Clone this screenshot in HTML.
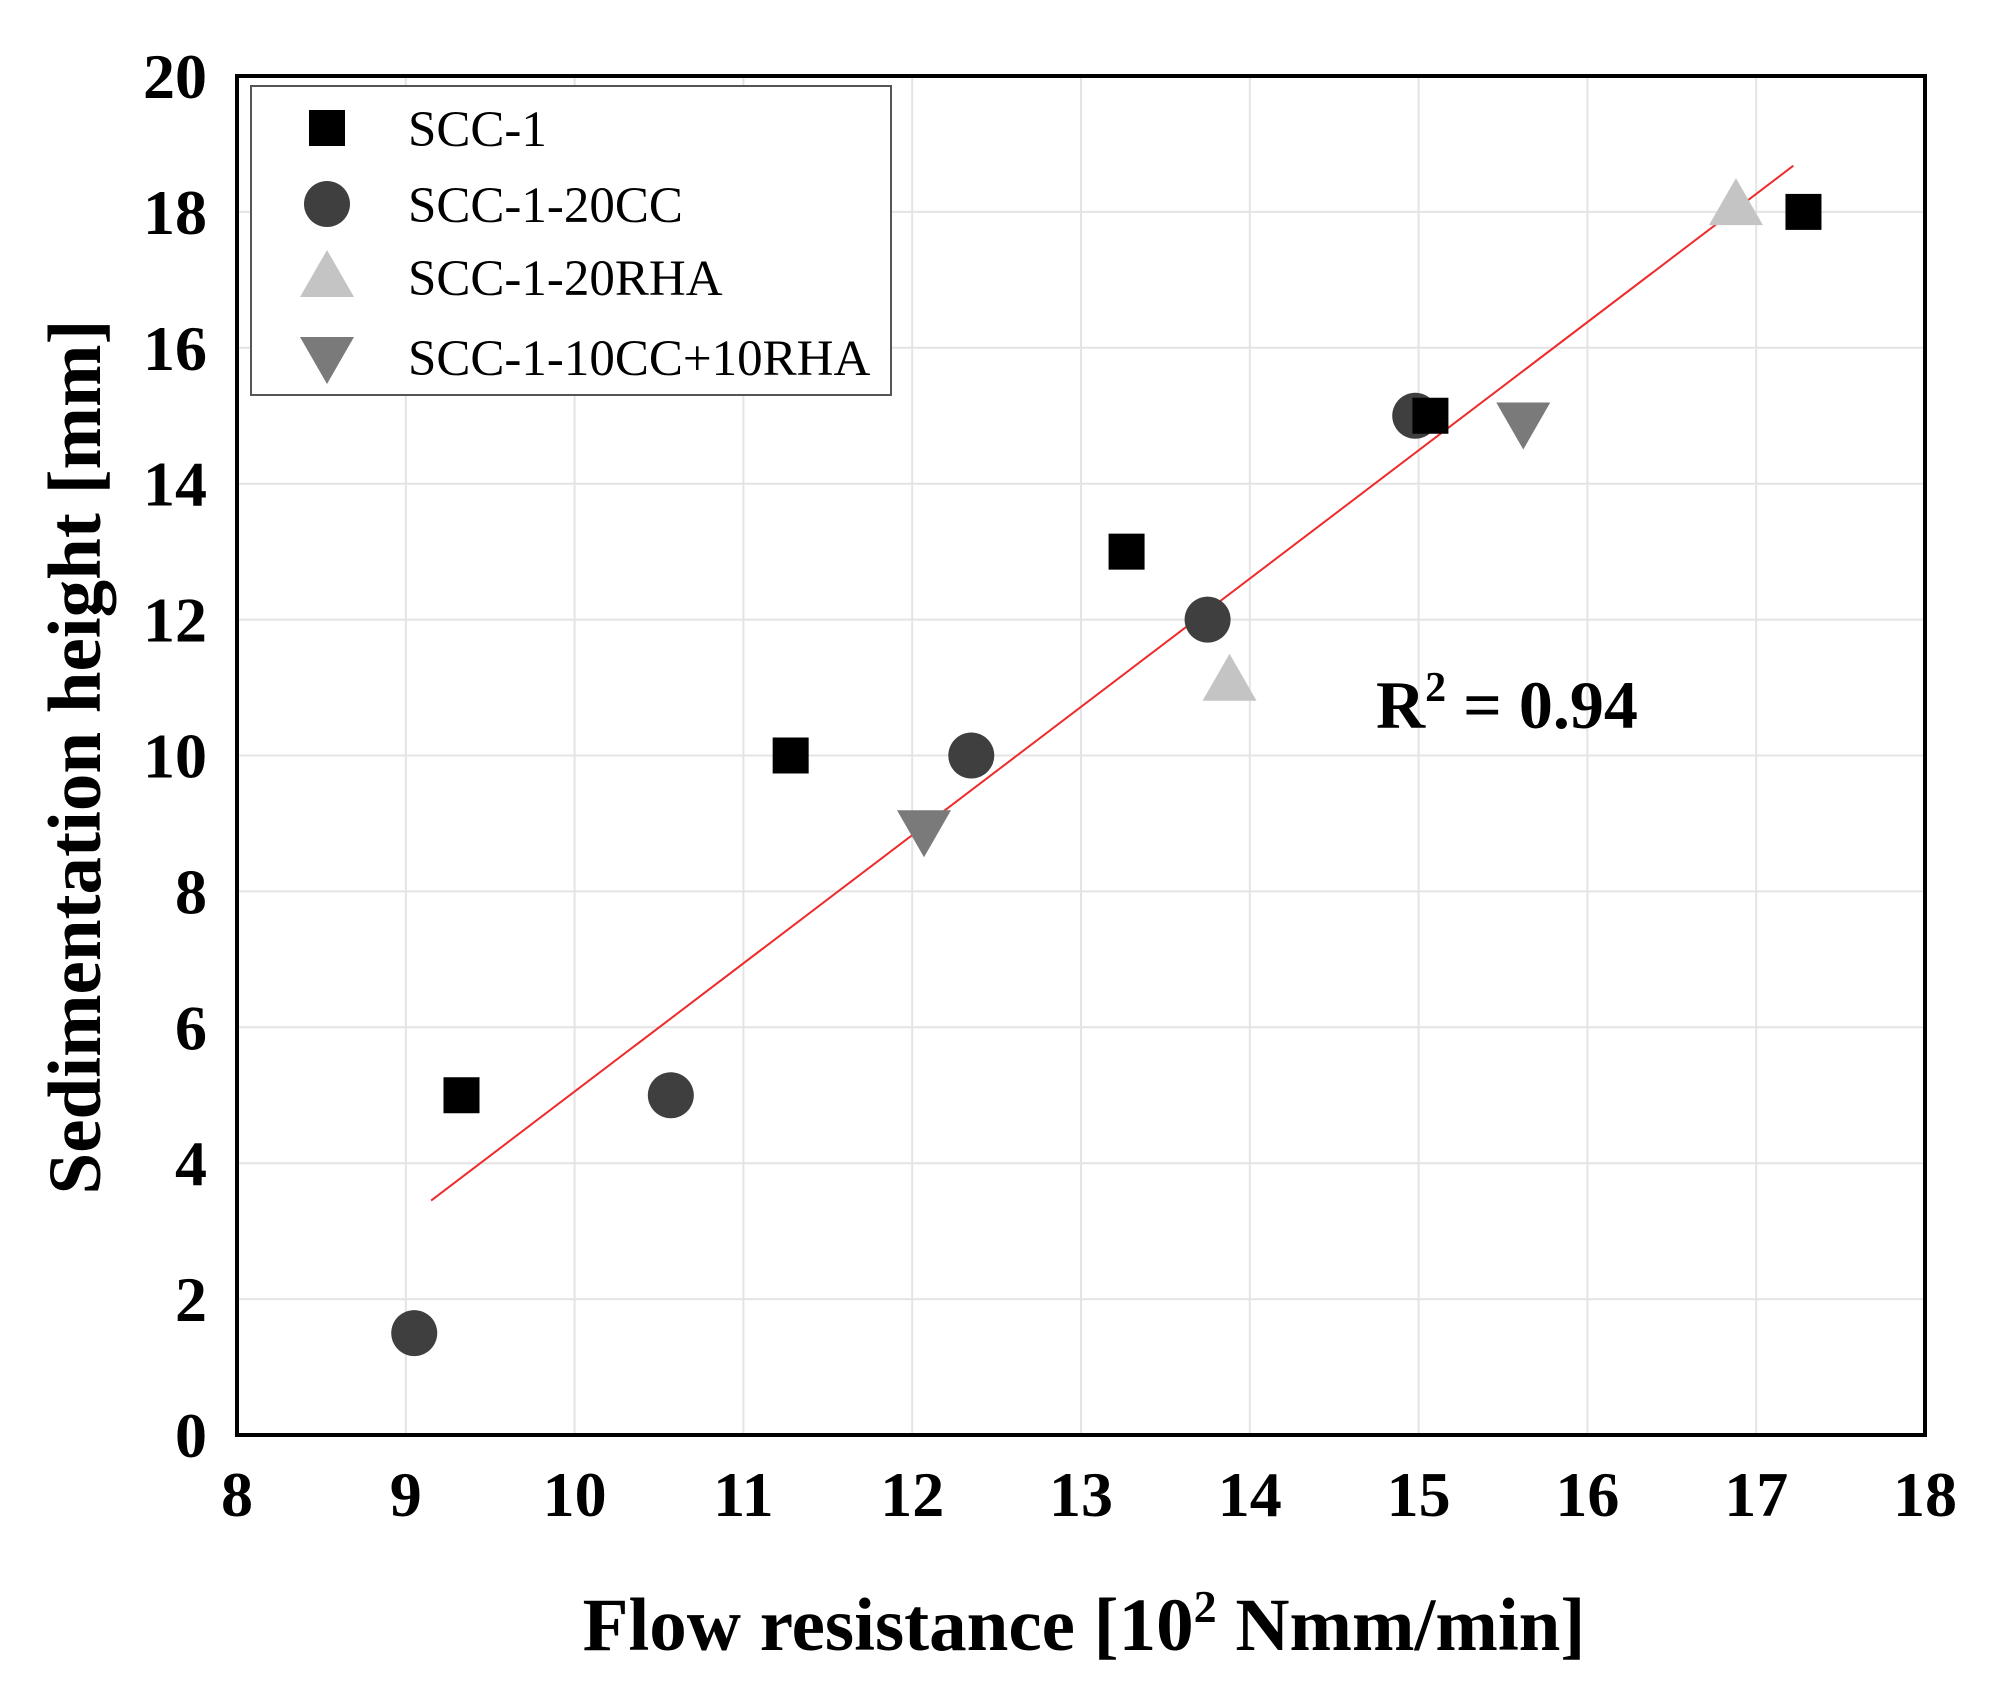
<!DOCTYPE html>
<html><head><meta charset="utf-8"><style>
html,body{margin:0;padding:0;background:#fff;}
svg text{font-family:"Liberation Serif",serif;}
</style></head><body>
<svg width="2003" height="1694" viewBox="0 0 2003 1694" xmlns="http://www.w3.org/2000/svg">
<g id="grid"></g>
<g id="fit"></g>
<g id="marks"></g>
<rect x="237" y="76" width="1688" height="1359" fill="none" stroke="#000" stroke-width="4"/>
<g id="ticks"></g>
<g>
<rect x="251" y="86" width="640" height="309" fill="#fff" stroke="#555" stroke-width="2"/>
<g id="legend-items"></g>
</g>
<text x="1376" y="728" font-size="68" font-weight="bold">R<tspan dy="-27" font-size="42">2</tspan><tspan dy="27"> = 0.94</tspan></text>
<text x="1084" y="1650" font-size="75" font-weight="bold" text-anchor="middle">Flow resistance [10<tspan dy="-28" font-size="46">2</tspan><tspan dy="28"> Nmm/min]</tspan></text>
<text transform="translate(100,757) rotate(-90)" font-size="75" font-weight="bold" text-anchor="middle">Sedimentation height [mm]</text>
</svg>
<script>
const xTicks=[8,9,10,11,12,13,14,15,16,17,18];
const yTicks=[0,2,4,6,8,10,12,14,16,18,20];
const seriesNames=["SCC-1","SCC-1-20CC","SCC-1-20RHA","SCC-1-10CC+10RHA"];
const scc1X=[9.33,11.28,13.27,15.07,17.28];
const scc1Y=[5,10,13,15,18];
const ccX=[9.05,10.57,12.35,13.75,14.98];
const ccY=[1.5,5,10,12,15];
const rhaX=[13.88,16.88];
const rhaY=[11.1,18.1];
const mixX=[12.07,15.62];
const mixY=[8.9,14.9];
const fitX=[9.15,17.22];
const fitY=[3.45,18.68];
const NS="http://www.w3.org/2000/svg";
const X0=237,X1=1925,Y0=1435,Y1=76;
function sx(v){return X0+(v-8)/10*(X1-X0);}
function sy(v){return Y0-(v/20)*(Y0-Y1);}
function mk(tag,attrs,parent){const e=document.createElementNS(NS,tag);for(const k in attrs)e.setAttribute(k,attrs[k]);parent.appendChild(e);return e;}
const grid=document.getElementById('grid'),ticks=document.getElementById('ticks'),marks=document.getElementById('marks');
xTicks.forEach(t=>{
  const l=mk('line',{x1:sx(t),x2:sx(t),y1:Y1,y2:Y0,stroke:'#e4e4e4','stroke-width':2},grid);
  
  
  const tx=mk('text',{x:sx(t),y:1516,'font-size':64,'font-weight':'bold','text-anchor':'middle'},ticks);
  tx.textContent=t;
  
  
});
yTicks.forEach(t=>{
  const l=mk('line',{x1:X0,x2:X1,y1:sy(t),y2:sy(t),stroke:'#e4e4e4','stroke-width':2},grid);
  
  
  const tx=mk('text',{x:207,y:sy(t)+22,'font-size':64,'font-weight':'bold','text-anchor':'end'},ticks);
  tx.textContent=t;
  
  
});
const fl=mk('line',{x1:sx(fitX[0]),y1:sy(fitY[0]),x2:sx(fitX[1]),y2:sy(fitY[1]),stroke:'#ee2a2a','stroke-width':2},document.getElementById('fit'));


function drawMarker(type,cx,cy,parent){
  let e;
  if(type==0)e=mk('rect',{x:cx-18,y:cy-18,width:36,height:36,fill:'#000'},parent);
  else if(type==1)e=mk('circle',{cx:cx,cy:cy,r:23,fill:'#3f3f3f'},parent);
  else if(type==2)e=mk('polygon',{points:`${cx},${cy-27} ${cx+27},${cy+20} ${cx-27},${cy+20}`,fill:'#c4c4c4'},parent);
  else e=mk('polygon',{points:`${cx-27},${cy-20} ${cx+27},${cy-20} ${cx},${cy+27}`,fill:'#7a7a7a'},parent);
  return e;
}
const sets=[[scc1X,scc1Y],[ccX,ccY],[rhaX,rhaY],[mixX,mixY]];
const order=[2,3,1,0];
order.forEach(s=>{
  sets[s][0].forEach((x,i)=>{
    const e=drawMarker(s,sx(x),sy(sets[s][1][i]),marks);
    
    
  });
});
const li=document.getElementById('legend-items');
const rowY=[128,204,277,357];
seriesNames.forEach((n,i)=>{
  const m=drawMarker(i,327,rowY[i],li);
  
  
  const t=mk('text',{x:408,y:rowY[i]+18,'font-size':51},li);
  t.textContent=n;
  
  
});
</script>
</body></html>
